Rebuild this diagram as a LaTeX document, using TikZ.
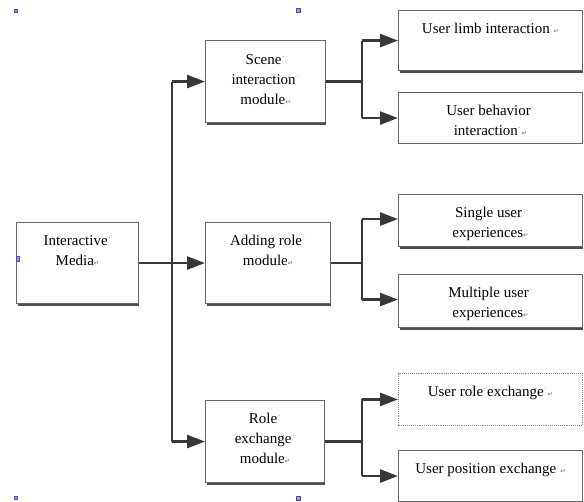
\documentclass[tikz,border=0pt]{standalone}
\usepackage{fontspec}
\setmainfont{Liberation Serif}
\newfontfamily\markfont{DejaVu Sans}
\usetikzlibrary{arrows.meta}
\newcommand\wsp{\makebox[0.26em][c]{\raisebox{0.32em}{\color{black!60}\fontsize{7}{7}\selectfont\char"00B7}}}
\newcommand\pmark{{\markfont\fontsize{6.5}{6.5}\selectfont\color{black!60}\char"21B5}}
\begin{document}
\begin{tikzpicture}[x=1pt,y=-1pt,
  box/.style={draw=black!60, line width=1.1pt, fill=white, inner sep=0pt, anchor=north west},
  selbox/.style={box, draw=black!45, densely dotted, line width=0.9pt},
  shadowline/.style={draw=black!70, line width=1.3pt},
  txt/.style={font=\fontsize{15}{20}\selectfont, align=center, inner sep=0pt, anchor=north, text=black},
  line/.style={draw=black!78, line width=2.6pt},
  arr/.style={line, -{Triangle[length=18pt,width=13pt]}},
  handle/.style={fill=blue!25!gray!60, draw=blue!40!gray, line width=0.3pt}
]
\useasboundingbox (0,0) rectangle (584,502);

% boxes
\node[box, minimum width=122pt, minimum height=81pt] (im) at (16,222) {};
\node[box, minimum width=120pt, minimum height=82pt] (sc) at (205,40) {};
\node[box, minimum width=125pt, minimum height=81pt] (ad) at (205,222) {};
\node[box, minimum width=119pt, minimum height=82pt] (re) at (205,400) {};
\node[box, minimum width=184pt, minimum height=60pt] (l1) at (398,10) {};
\node[box, minimum width=184pt, minimum height=51pt] (l2) at (398,92) {};
\node[box, minimum width=184pt, minimum height=52pt] (s1) at (398,194) {};
\node[box, minimum width=184pt, minimum height=53pt] (s2) at (398,274) {};
\node[selbox, minimum width=184pt, minimum height=52pt] (r1) at (398,373) {};
\node[box, minimum width=184pt, minimum height=51pt] (r2) at (398,450) {};

% bottom shadows
\foreach \b in {im,sc,ad,re,l1,s1,s2}{
  \draw[shadowline] ([xshift=1.5pt,yshift=-1pt]\b.south west) -- ([xshift=-0.5pt,yshift=-1pt]\b.south east);
}

% texts
\node[txt] (im-t) at ([yshift=-13pt]im.north) {Interactive\wsp\\Media\pmark};
\node[txt] (sc-t) at ([yshift=-14pt]sc.north) {Scene\wsp\\interaction\wsp\\module\pmark};
\node[txt] (ad-t) at ([yshift=-13pt]ad.north) {Adding role\wsp\\module\pmark};
\node[txt] (re-t) at ([yshift=-13pt]re.north) {Role\wsp\\exchange\wsp\\module\pmark};
\node[txt] (l1-t) at ([yshift=-13pt]l1.north) {User\wsp limb\wsp interaction\wsp\pmark};
\node[txt] (l2-t) at ([yshift=-13pt]l2.north) {User behavior\wsp\\interaction\wsp\pmark};
\node[txt] (s1-t) at ([yshift=-13pt]s1.north) {Single user\wsp\\experiences\pmark};
\node[txt] (s2-t) at ([yshift=-13pt]s2.north) {Multiple user\wsp\\experiences\pmark};
\node[txt] (r1-t) at ([yshift=-13pt]r1.north) {User role\wsp exchange\wsp\pmark};
\node[txt] (r2-t) at ([yshift=-13pt]r2.north) {User position\wsp exchange\wsp\pmark};

% trunk
\coordinate (tr) at (172,264);
\coordinate (b) at (362,0);
\draw[line] (sc.west -| tr) -- (re.west -| tr);
\draw[arr] (im.east) -- (ad.west);
\draw[arr] (sc.west -| tr) -- (sc.west);
\draw[arr] (re.west -| tr) -- (re.west);

% branches
\draw[line] (sc.east) -- (sc.east -| b);
\draw[line] (l1.west -| b) -- (l2.west -| b);
\draw[arr] (l1.west -| b) -- (l1.west);
\draw[arr] (l2.west -| b) -- (l2.west);

\draw[line] (ad.east) -- (ad.east -| b);
\draw[line] ([yshift=1.5pt]s1.west -| b) -- ([yshift=1.5pt]s2.west -| b);
\draw[arr] ([yshift=1.5pt]s1.west -| b) -- ([yshift=1.5pt]s1.west);
\draw[arr] ([yshift=1.5pt]s2.west -| b) -- ([yshift=1.5pt]s2.west);

\draw[line] (re.east) -- (re.east -| b);
\draw[line] (r1.west -| b) -- (r2.west -| b);
\draw[arr] (r1.west -| b) -- (r1.west);
\draw[arr] (r2.west -| b) -- (r2.west);

% selection handles
\fill[handle] (14,9) rectangle (17,12);
\fill[handle] (296,8) rectangle (300,12);
\fill[handle] (16,256) rectangle (19,261);
\fill[handle] (14,496) rectangle (17,499);
\fill[handle] (296,496) rectangle (300,500);
\end{tikzpicture}
\end{document}
